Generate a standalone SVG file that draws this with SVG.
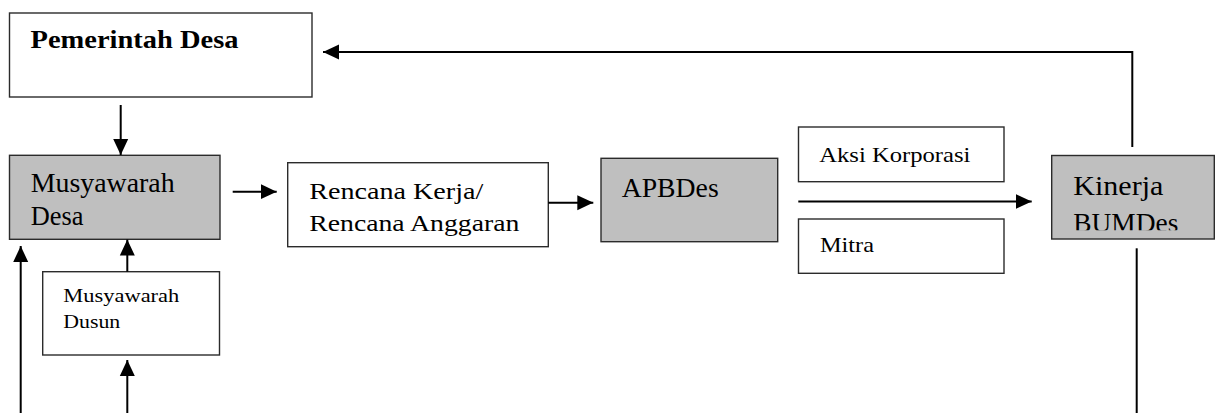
<svg xmlns="http://www.w3.org/2000/svg" width="1215" height="413" viewBox="0 0 1215 413">
<style>
.box{fill:#fff;stroke:#2b2b2b;stroke-width:1.4}
.gray{fill:#bfbfbf;stroke:#2b2b2b;stroke-width:1.4}
.t{font-family:"Liberation Serif","Times New Roman",serif;fill:#000}
.b{font-weight:bold}
.c{fill:none;stroke:#000;stroke-width:2}
</style>
<defs>
<marker id="ah" viewBox="0 0 16 16" refX="16" refY="8" markerWidth="16" markerHeight="16" markerUnits="userSpaceOnUse" orient="auto">
<path d="M0,0.5 L16,8 L0,15.5 z" fill="#000"/>
</marker>
<clipPath id="kclip"><rect x="1050" y="150" width="165" height="80.3"/></clipPath>
</defs>
<rect width="1215" height="413" fill="#fff"/>
<g id="pemerintah">
<rect class="box" x="9.5" y="13" width="302.5" height="84"/>
<text class="t b" x="30.5" y="48.3" font-size="25" textLength="208" lengthAdjust="spacingAndGlyphs">Pemerintah Desa</text>
</g>
<g id="musdes">
<rect class="gray" x="9.5" y="155.3" width="210.5" height="84"/>
<text class="t" x="30.7" y="191.7" font-size="27" textLength="144" lengthAdjust="spacingAndGlyphs">Musyawarah</text>
<text class="t" x="30.7" y="225" font-size="27" textLength="52.7" lengthAdjust="spacingAndGlyphs">Desa</text>
</g>
<g id="musdus">
<rect class="box" x="42.7" y="271.7" width="176.8" height="83.3"/>
<text class="t" x="63.3" y="301.7" font-size="18" textLength="116" lengthAdjust="spacingAndGlyphs">Musyawarah</text>
<text class="t" x="63.3" y="328.3" font-size="18" textLength="57" lengthAdjust="spacingAndGlyphs">Dusun</text>
</g>
<g id="rencana">
<rect class="box" x="287.7" y="162.7" width="260.6" height="84"/>
<text class="t" x="309.3" y="199.3" font-size="24" textLength="174" lengthAdjust="spacingAndGlyphs">Rencana Kerja/</text>
<text class="t" x="309.3" y="230.7" font-size="24" textLength="210" lengthAdjust="spacingAndGlyphs">Rencana Anggaran</text>
</g>
<g id="apbdes">
<rect class="gray" x="601" y="158.3" width="176.7" height="83.4"/>
<text class="t" x="621.7" y="197.3" font-size="28" textLength="97" lengthAdjust="spacingAndGlyphs">APBDes</text>
</g>
<g id="aksi">
<rect class="box" x="798.5" y="127" width="205.5" height="54.7"/>
<text class="t" x="819.3" y="161.7" font-size="22" textLength="151" lengthAdjust="spacingAndGlyphs">Aksi Korporasi</text>
</g>
<g id="mitra">
<rect class="box" x="798.5" y="219" width="205.5" height="54.3"/>
<text class="t" x="820" y="251.7" font-size="22" textLength="54" lengthAdjust="spacingAndGlyphs">Mitra</text>
</g>
<g id="kinerja">
<rect class="gray" x="1051.7" y="155.5" width="162.6" height="83.5"/>
<g clip-path="url(#kclip)">
<text class="t" x="1073.3" y="195" font-size="28" textLength="90" lengthAdjust="spacingAndGlyphs">Kinerja</text>
<text class="t" x="1073.3" y="231.8" font-size="28" textLength="105" lengthAdjust="spacingAndGlyphs">BUMDes</text>
</g>
</g>
<g id="connectors">
<polyline class="c" points="1132.3,147 1132.3,52 323,52" marker-end="url(#ah)"/>
<line class="c" x1="120.7" y1="105" x2="120.7" y2="155" marker-end="url(#ah)"/>
<line class="c" x1="232.7" y1="191.7" x2="276.7" y2="191.7" marker-end="url(#ah)"/>
<line class="c" x1="548.3" y1="202.7" x2="593.3" y2="202.7" marker-end="url(#ah)"/>
<line class="c" x1="798.3" y1="201.5" x2="1031.7" y2="201.5" marker-end="url(#ah)"/>
<line class="c" x1="127.3" y1="271.7" x2="127.3" y2="239.5" marker-end="url(#ah)"/>
<line class="c" x1="127.3" y1="413" x2="127.3" y2="360" marker-end="url(#ah)"/>
<line class="c" x1="20.7" y1="413" x2="20.7" y2="246" marker-end="url(#ah)"/>
<line class="c" x1="1136.7" y1="248.3" x2="1136.7" y2="413"/>
</g>
</svg>
